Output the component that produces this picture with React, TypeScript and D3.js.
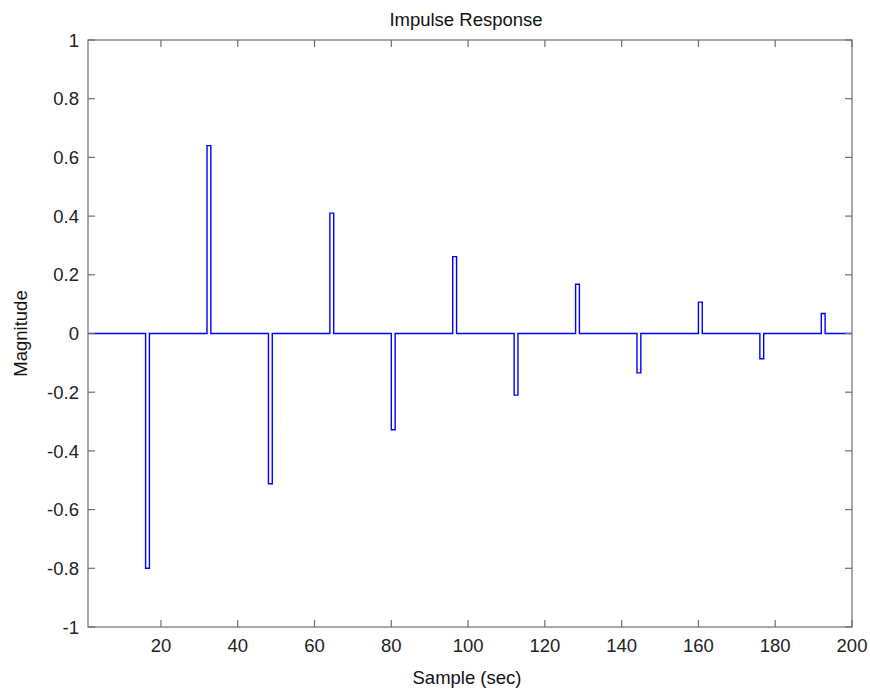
import React from "react";
import * as d3 from "d3";

const title = "Impulse Response";
const xLabel = "Sample (sec)";
const yLabel = "Magnitude";
const sampleCount = 200;
const pulseSamples = [16, 32, 48, 64, 80, 96, 112, 128, 144, 160, 176, 192];
const pulseValues = [-0.8, 0.64, -0.512, 0.41, -0.328, 0.262, -0.21, 0.168, -0.134, 0.107, -0.086, 0.068];
const xTicks = [20, 40, 60, 80, 100, 120, 140, 160, 180, 200];
const yTicks = [-1, -0.8, -0.6, -0.4, -0.2, 0, 0.2, 0.4, 0.6, 0.8, 1];

const W = 870, H = 693;
const L = 88, R = 852, T = 40, B = 627;
const axisColor = "#6e6e6e";
const font = "'Liberation Sans', Arial, sans-serif";
const fs = 18.5;

export default function App() {
  const x = d3.scaleLinear().domain([1, sampleCount]).range([L, R]);
  const y = d3.scaleLinear().domain([-1, 1]).range([B, T]);

  const series: [number, number][] = [];
  for (let i = 1; i <= sampleCount; i++) {
    const k = pulseSamples.indexOf(i);
    series.push([i, k >= 0 ? pulseValues[k] : 0]);
  }
  const line = d3
    .line<[number, number]>()
    .x((d) => x(d[0]))
    .y((d) => y(d[1]))
    .curve(d3.curveStepAfter);
  const path = line(series) || "";

  const tl = 7;
  const fmt = (v: number) => (v === 0 ? "0" : String(v));

  return (
    <svg width={W} height={H} style={{ position: "absolute", left: 0, top: 0, background: "#fff" }}>
      <rect x={0} y={0} width={W} height={H} fill="#fff" />
      <defs>
        <clipPath id="plotclip">
          <rect x={L} y={T} width={R - L} height={B - T} />
        </clipPath>
      </defs>
      <path d={path} fill="none" stroke="#0000ff" strokeWidth={1.4} clipPath="url(#plotclip)" />
      <rect x={L} y={T} width={R - L} height={B - T} fill="none" stroke={axisColor} strokeWidth={1.2} />
      {xTicks.map((t) => (
        <g key={"x" + t}>
          <line x1={x(t)} x2={x(t)} y1={B} y2={B - tl} stroke={axisColor} strokeWidth={1.2} />
          <line x1={x(t)} x2={x(t)} y1={T} y2={T + tl} stroke={axisColor} strokeWidth={1.2} />
          <text x={x(t)} y={652} textAnchor="middle" fontFamily={font} fontSize={fs} fill="#222">
            {t}
          </text>
        </g>
      ))}
      {yTicks.map((t) => (
        <g key={"y" + t}>
          <line x1={L} x2={L + tl} y1={y(t)} y2={y(t)} stroke={axisColor} strokeWidth={1.2} />
          <line x1={R} x2={R - tl} y1={y(t)} y2={y(t)} stroke={axisColor} strokeWidth={1.2} />
          <text x={79} y={y(t)} dy="0.36em" textAnchor="end" fontFamily={font} fontSize={fs} fill="#222">
            {fmt(t)}
          </text>
        </g>
      ))}
      <text x={466} y={26} textAnchor="middle" fontFamily={font} fontSize={fs} fill="#111">
        {title}
      </text>
      <text x={467} y={684} textAnchor="middle" fontFamily={font} fontSize={fs} fill="#111">
        {xLabel}
      </text>
      <text
        transform={`translate(27, ${(T + B) / 2}) rotate(-90)`}
        textAnchor="middle"
        fontFamily={font}
        fontSize={fs}
        fill="#111"
      >
        {yLabel}
      </text>
    </svg>
  );
}
